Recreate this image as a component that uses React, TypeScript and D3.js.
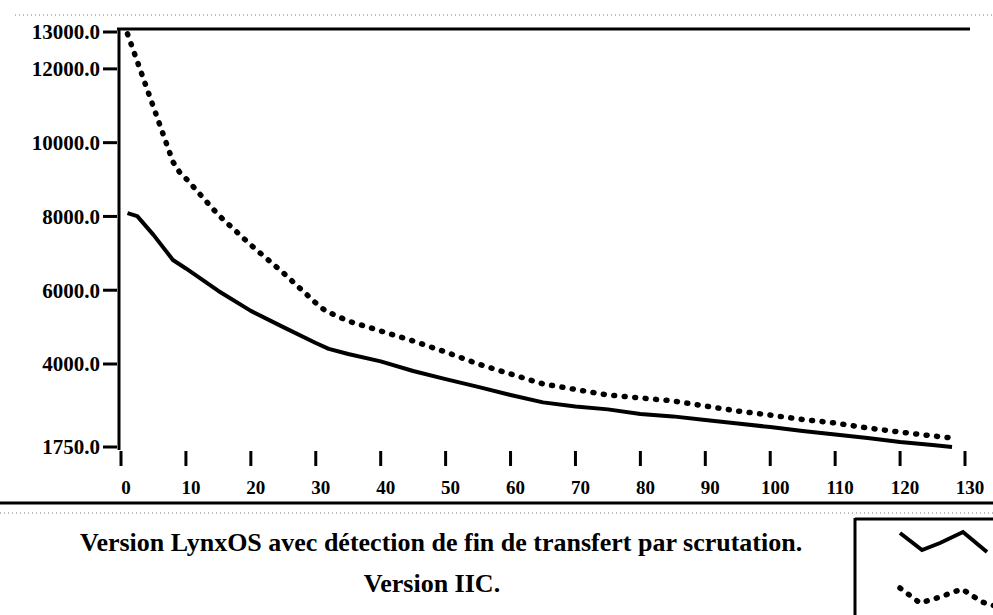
import React from 'react';
import * as d3 from 'd3';

// solid curve : LynxOS, end-of-transfer detection by polling
const solidX = [1, 2.5, 5, 8, 10, 15, 20, 25, 30, 32, 35, 40, 45, 50, 55, 60, 65, 70, 75, 80, 85, 90, 95, 100, 105, 110, 115, 120, 125, 128];
const solidY = [8090, 8010, 7500, 6820, 6590, 5980, 5440, 5000, 4570, 4410, 4270, 4070, 3810, 3590, 3380, 3160, 2960, 2850, 2770, 2645, 2580, 2480, 2390, 2290, 2185, 2090, 1995, 1885, 1805, 1750];

// dotted curve : version IIC
const dotX = [1, 8, 9, 10, 15, 20, 25, 30, 31.5, 35, 40, 45, 50, 55, 60, 65, 70, 75, 80, 85, 90, 95, 100, 105, 110, 115, 120, 125, 128];
const dotY = [12950, 9480, 9205, 9030, 8040, 7225, 6470, 5655, 5440, 5165, 4895, 4625, 4325, 4000, 3730, 3460, 3310, 3160, 3080, 3000, 2860, 2725, 2615, 2495, 2400, 2265, 2155, 2050, 1995];

const yTicks = [1750, 4000, 6000, 8000, 10000, 12000, 13000];
const xTicks = [0, 10, 20, 30, 40, 50, 60, 70, 80, 90, 100, 110, 120, 130];

const legendText1 = 'Version LynxOS avec détection de fin de transfert par scrutation.';
const legendText2 = 'Version IIC.';

const W = 993;
const H = 615;
const font = '"Liberation Serif", "DejaVu Serif", serif';

export default function App() {
  const x = d3.scaleLinear().domain([0, 130]).range([121, 965]);
  const y = d3.scaleLinear().domain([1750, 13000]).range([447, 32]);

  const line = d3.line<[number, number]>()
    .x(d => x(d[0]))
    .y(d => y(d[1]));

  const solid = line(solidX.map((v, i) => [v, solidY[i]]));
  const dotted = line(dotX.map((v, i) => [v, dotY[i]]));

  // little legend glyphs, in box coordinates
  const lgSolid = d3.line()([[900, 533], [922, 550], [940, 543], [963, 532], [987, 552]]);
  const lgDot = d3.line()([[900, 588], [920, 603], [940, 597], [962, 589], [982, 602], [995, 606]]);

  return (
    <svg width={W} height={H} style={{ position: 'absolute', left: 0, top: 0, background: '#fff' }}>
      <rect width={W} height={H} fill="#fff" />

      {/* faint scan lines */}
      <line x1={15} x2={993} y1={15} y2={15} stroke="#000" strokeWidth={1} strokeDasharray="1 3" opacity={0.5} />
      <line x1={0} x2={993} y1={513} y2={513} stroke="#000" strokeWidth={1} strokeDasharray="1 3" opacity={0.5} />

      {/* frame */}
      <line x1={117} x2={970} y1={29} y2={29} stroke="#000" strokeWidth={3} />
      <line x1={119} x2={119} y1={28} y2={450} stroke="#000" strokeWidth={3} />

      {/* y axis */}
      {yTicks.map(t => (
        <g key={t}>
          <line x1={103} x2={117} y1={y(t)} y2={y(t)} stroke="#000" strokeWidth={3} />
          <text x={100} y={y(t)} dy="0.35em" textAnchor="end" fontFamily={font} fontWeight="bold" fontSize={21}>
            {t.toFixed(1)}
          </text>
        </g>
      ))}

      {/* x axis */}
      {xTicks.map(t => (
        <g key={t}>
          <line x1={x(t)} x2={x(t)} y1={451} y2={466} stroke="#000" strokeWidth={3} />
          <text x={x(t) + 5} y={494} textAnchor="middle" fontFamily={font} fontWeight="bold" fontSize={19}>
            {t}
          </text>
        </g>
      ))}

      {/* curves */}
      <path d={solid ?? ''} fill="none" stroke="#000" strokeWidth={4} strokeLinejoin="round" />
      <path d={dotted ?? ''} fill="none" stroke="#000" strokeWidth={5.5} strokeLinecap="round" strokeDasharray="1 9.5" />

      {/* bottom separator */}
      <line x1={0} x2={993} y1={503} y2={503} stroke="#000" strokeWidth={3} />

      {/* legend */}
      <text x={80} y={551} fontFamily={font} fontWeight="bold" fontSize={26}>{legendText1}</text>
      <text x={432} y={592} textAnchor="middle" fontFamily={font} fontWeight="bold" fontSize={26}>{legendText2}</text>

      <line x1={855} x2={993} y1={519} y2={519} stroke="#000" strokeWidth={3} />
      <line x1={855} x2={855} y1={518} y2={615} stroke="#000" strokeWidth={3} />
      <path d={lgSolid ?? ''} fill="none" stroke="#000" strokeWidth={4} />
      <path d={lgDot ?? ''} fill="none" stroke="#000" strokeWidth={5.5} strokeLinecap="round" strokeDasharray="1 9.5" />
    </svg>
  );
}
